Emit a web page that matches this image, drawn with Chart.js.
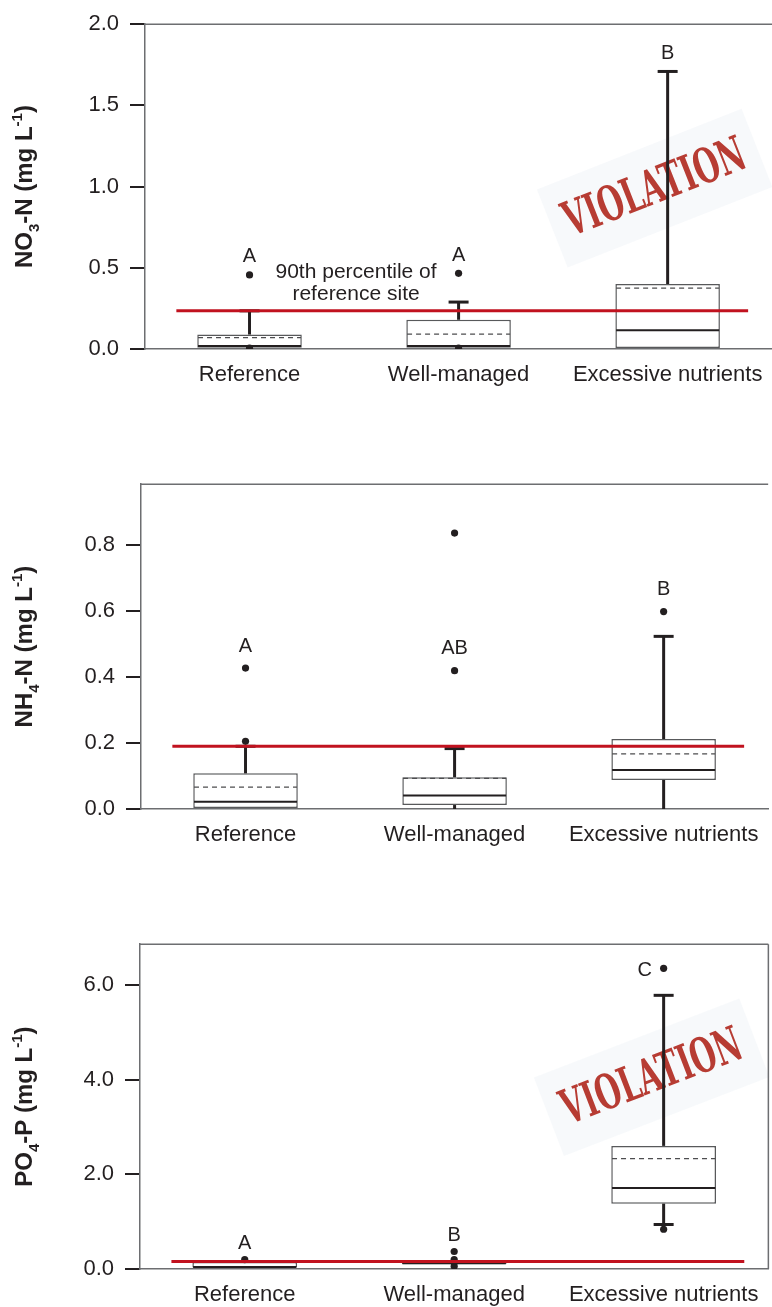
<!DOCTYPE html>
<html><head><meta charset="utf-8">
<script src="https://cdn.jsdelivr.net/npm/chart.js@4.4.0/dist/chart.umd.min.js"></script>
<style>
html,body{margin:0;padding:0;background:#fff;}
body{position:relative;width:772px;height:1307px;overflow:hidden;}
canvas{position:absolute;left:0;}
</style></head><body>
<canvas id="c1" width="776" height="440" style="top:0px"></canvas>
<canvas id="c2" width="772" height="440" style="top:460px"></canvas>
<canvas id="c3" width="772" height="387" style="top:920px"></canvas>
<script>
// ---------- DATA ----------
const categories = ['Reference', 'Well-managed', 'Excessive nutrients'];

// Panel 1: NO3-N
const no3Q1 = [0.008, 0.008, 0.0];
const no3Q3 = [0.089, 0.18, 0.40];
const no3Median = [0.018, 0.018, 0.115];
const no3Mean = [0.07, 0.092, 0.375];
const no3WhiskerLow = [null, null, null];
const no3WhiskerHigh = [0.235, 0.289, 1.709];
const no3Outliers = [[0.456, 0.005], [0.466, 0.005], []];
const no3Letters = ['A', 'A', 'B'];
const no3LetterAt = [0.456, 0.466, 1.709];
const no3Threshold = 0.235;
const no3Ticks = [0.0, 0.5, 1.0, 1.5, 2.0];
const no3Range = [0, 2.0];

// Panel 2: NH4-N
const nh4Q1 = [0.003, 0.012, 0.088];
const nh4Q3 = [0.108, 0.096, 0.212];
const nh4Median = [0.022, 0.041, 0.118];
const nh4Mean = [0.066, 0.093, 0.167];
const nh4WhiskerLow = [null, 0.0, 0.0];
const nh4WhiskerHigh = [0.19, 0.183, 0.523];
const nh4Outliers = [[0.427, 0.205], [0.419, 0.836], [0.598]];
const nh4Letters = ['A', 'AB', 'B'];
const nh4LetterAt = [0.427, 0.419, 0.598];
const nh4Threshold = 0.19;
const nh4Ticks = [0.0, 0.2, 0.4, 0.6, 0.8];
const nh4Range = [0, 0.984];

// Panel 3: PO4-P
const po4Q1 = [0.03, 0.10, 1.38];
const po4Q3 = [0.15, 0.15, 2.60];
const po4Median = [0.04, 0.12, 1.71];
const po4Mean = [0.14, 0.14, 2.33];
const po4WhiskerLow = [null, null, 0.94];
const po4WhiskerHigh = [null, null, 5.78];
const po4Outliers = [[0.2], [0.37, 0.2, 0.06], [6.35, 0.84]];
const po4Letters = ['A', 'B', 'C'];
const po4LetterAt = [0.2, 0.37, 6.35];
const po4Threshold = 0.16;
const po4Ticks = [0.0, 2.0, 4.0, 6.0];
const po4Range = [0, 6.86];

// ---------- STYLE ----------
const FONT = '"Liberation Sans", Arial, sans-serif';
const DARK = '#231f20';
const AXIS = '#6d6e71';
const RED = '#c1121f';

function drawYTitle(ctx, parts, cx, cy, size) {
  ctx.save();
  ctx.translate(cx, cy);
  ctx.rotate(-Math.PI / 2);
  const main = 'bold ' + size + 'px ' + FONT;
  const small = 'bold ' + Math.round(size * 0.62) + 'px ' + FONT;
  let total = 0;
  const ws = parts.map(p => { ctx.font = p[1] === 'n' ? main : small; const w = ctx.measureText(p[0]).width; total += w; return w; });
  let x = -total / 2;
  ctx.fillStyle = DARK;
  ctx.textAlign = 'left';
  ctx.textBaseline = 'alphabetic';
  const base = size * 0.36;
  parts.forEach((p, i) => {
    ctx.font = p[1] === 'n' ? main : small;
    const dy = p[1] === 'sub' ? size * 0.28 : (p[1] === 'sup' ? -size * 0.42 : 0);
    ctx.fillText(p[0], x, base + dy);
    x += ws[i];
  });
  ctx.restore();
}

function drawStamp(chart, s) {
  const ctx = chart.ctx, xs = chart.scales.x, ys = chart.scales.y;
  const cx = xs.getPixelForValue(2) + s.dx;
  const cy = ys.getPixelForValue(s.y);
  ctx.save();
  ctx.translate(cx, cy);
  ctx.rotate(s.angle * Math.PI / 180);
  ctx.fillStyle = 'rgba(232,238,243,0.35)';
  ctx.fillRect(-110, -42, 220, 84);
  ctx.font = 'bold 46px "DejaVu Serif Condensed", "DejaVu Serif", serif';
  ctx.textAlign = 'center';
  ctx.textBaseline = 'middle';
  const w = ctx.measureText('VIOLATION').width;
  ctx.scale(s.width / w, 1.05);
  ctx.fillStyle = 'rgba(176,40,30,0.9)';
  ctx.fillText('VIOLATION', 0, 2);
  ctx.restore();
}

function makePanel(id, p) {
  const el = document.getElementById(id);
  const H = el.height;
  const extras = {
    id: 'extras',
    beforeDatasetsDraw(chart) {
      if (p.stamp) drawStamp(chart, p.stamp);
    },
    afterDatasetsDraw(chart) {
      const ctx = chart.ctx, ys = chart.scales.y;
      const meta = chart.getDatasetMeta(0);
      ctx.save();
      meta.data.forEach((bar, i) => {
        const cx = bar.x;
        const half = bar.width / 2 - 0.75;
        // mean (dashed)
        ctx.strokeStyle = '#4d4d4f'; ctx.lineWidth = 1.3; ctx.setLineDash([5, 4]);
        let y = ys.getPixelForValue(p.mean[i]);
        ctx.beginPath(); ctx.moveTo(cx - half, y); ctx.lineTo(cx + half, y); ctx.stroke();
        ctx.setLineDash([]);
        // median
        ctx.strokeStyle = DARK; ctx.lineWidth = 2;
        y = ys.getPixelForValue(p.median[i]);
        ctx.beginPath(); ctx.moveTo(cx - half, y); ctx.lineTo(cx + half, y); ctx.stroke();
        // whiskers
        ctx.lineWidth = 3;
        if (p.wHigh[i] != null) {
          const y0 = ys.getPixelForValue(p.q3[i]), y1 = ys.getPixelForValue(p.wHigh[i]);
          ctx.beginPath(); ctx.moveTo(cx, y0); ctx.lineTo(cx, y1); ctx.stroke();
          ctx.beginPath(); ctx.moveTo(cx - 10, y1); ctx.lineTo(cx + 10, y1); ctx.stroke();
        }
        if (p.wLow[i] != null) {
          const y0 = ys.getPixelForValue(p.q1[i]), y1 = ys.getPixelForValue(p.wLow[i]);
          ctx.beginPath(); ctx.moveTo(cx, y0); ctx.lineTo(cx, y1); ctx.stroke();
          if (p.wLow[i] > ys.min) { ctx.beginPath(); ctx.moveTo(cx - 10, y1); ctx.lineTo(cx + 10, y1); ctx.stroke(); }
        }
      });
      ctx.restore();
    },
    afterDraw(chart) {
      const ctx = chart.ctx, xs = chart.scales.x, ys = chart.scales.y, ca = chart.chartArea;
      ctx.save();
      // frame: top (and right)
      ctx.strokeStyle = AXIS; ctx.lineWidth = 1.5;
      ctx.beginPath(); ctx.moveTo(ca.left, ca.top); ctx.lineTo(ca.right, ca.top); ctx.stroke();
      if (p.rightBorder) { ctx.beginPath(); ctx.moveTo(ca.right, ca.top); ctx.lineTo(ca.right, ca.bottom); ctx.stroke(); }
      // letters
      ctx.fillStyle = DARK; ctx.font = '20px ' + FONT; ctx.textBaseline = 'middle'; ctx.textAlign = 'center';
      p.letters.forEach((t, i) => {
        const x = xs.getPixelForValue(i), y = ys.getPixelForValue(p.letterAt[i]);
        if (p.letterLeft && p.letterLeft[i]) ctx.fillText(t, x - 19, y + 2);
        else ctx.fillText(t, x, y - p.letterGap);
      });
      // threshold line (90th percentile of reference site)
      const step = xs.getPixelForValue(1) - xs.getPixelForValue(0);
      const ty = ys.getPixelForValue(p.threshold);
      ctx.strokeStyle = RED; ctx.lineWidth = 3;
      ctx.beginPath();
      ctx.moveTo(xs.getPixelForValue(0) - 0.35 * step, ty);
      ctx.lineTo(xs.getPixelForValue(2) + 0.385 * step, ty);
      ctx.stroke();
      if (p.note) {
        ctx.fillStyle = DARK; ctx.font = '21px ' + FONT; ctx.textAlign = 'center'; ctx.textBaseline = 'alphabetic';
        const nx = (xs.getPixelForValue(0) + xs.getPixelForValue(1)) / 2 + 2;
        ctx.fillText(p.note[0], nx, ty - 33);
        ctx.fillText(p.note[1], nx, ty - 11);
      }
      ctx.restore();
      drawYTitle(ctx, p.title, 23.5, (ca.top + ca.bottom) / 2, 24);
    }
  };
  const outlierPts = [];
  p.outliers.forEach((arr, i) => arr.forEach(v => outlierPts.push({ x: categories[i], y: v })));
  return new Chart(el, {
    type: 'bar',
    data: {
      labels: categories,
      datasets: [
        {
          type: 'bar', order: 1,
          data: p.q1.map((v, i) => [v, p.q3[i]]),
          backgroundColor: '#ffffff', borderColor: '#58595b', borderWidth: 1.5,
          borderSkipped: false, barPercentage: 0.5, categoryPercentage: 1.0
        },
        {
          type: 'scatter', order: 0, data: outlierPts, showLine: false,
          pointRadius: 3.6, pointHoverRadius: 3.6, pointBackgroundColor: DARK, pointBorderWidth: 0
        }
      ]
    },
    options: {
      responsive: false, animation: false, devicePixelRatio: 1,
      layout: { padding: { top: 17, right: p.padRight, bottom: 0, left: 0 } },
      plugins: { legend: { display: false }, tooltip: { enabled: false } },
      scales: {
        x: {
          type: 'category', offset: true,
          grid: { display: false, drawTicks: false },
          border: { display: true, color: AXIS, width: 1.5 },
          ticks: { color: DARK, font: { family: FONT, size: 22 }, padding: 13, maxRotation: 0, autoSkip: false },
          afterFit: s => { s.height = H - 349; }
        },
        y: {
          type: 'linear', min: p.range[0], max: p.range[1],
          afterBuildTicks: s => { s.ticks = p.ticks.map(v => ({ value: v })); },
          grid: { drawOnChartArea: false, drawTicks: true, tickLength: 15, color: DARK, lineWidth: 2 },
          border: { display: true, color: AXIS, width: 1.5 },
          ticks: { color: DARK, font: { family: FONT, size: 22 }, padding: 11, callback: v => Number(v).toFixed(1) },
          afterFit: s => { s.width = p.yWidth; }
        }
      }
    },
    plugins: [extras]
  });
}

makePanel('c1', {
  q1: no3Q1, q3: no3Q3, median: no3Median, mean: no3Mean, wLow: no3WhiskerLow, wHigh: no3WhiskerHigh,
  outliers: no3Outliers, letters: no3Letters, letterAt: no3LetterAt, letterGap: 18,
  threshold: no3Threshold, ticks: no3Ticks, range: no3Range, yWidth: 145, padRight: 0,
  title: [['NO', 'n'], ['3', 'sub'], ['-N (mg L', 'n'], ['-1', 'sup'], [')', 'n']],
  note: ['90th percentile of', 'reference site'],
  stamp: { dx: -13, y: 0.99, angle: -21.5, width: 192 }
});
makePanel('c2', {
  q1: nh4Q1, q3: nh4Q3, median: nh4Median, mean: nh4Mean, wLow: nh4WhiskerLow, wHigh: nh4WhiskerHigh,
  outliers: nh4Outliers, letters: nh4Letters, letterAt: nh4LetterAt, letterGap: 22,
  threshold: nh4Threshold, ticks: nh4Ticks, range: nh4Range, yWidth: 141, padRight: 0,
  title: [['NH', 'n'], ['4', 'sub'], ['-N (mg L', 'n'], ['-1', 'sup'], [')', 'n']]
});
makePanel('c3', {
  q1: po4Q1, q3: po4Q3, median: po4Median, mean: po4Mean, wLow: po4WhiskerLow, wHigh: po4WhiskerHigh,
  outliers: po4Outliers, letters: po4Letters, letterAt: po4LetterAt, letterGap: 16, letterLeft: [false, false, true],
  threshold: po4Threshold, ticks: po4Ticks, range: po4Range, yWidth: 140, padRight: 2, rightBorder: true,
  title: [['PO', 'n'], ['4', 'sub'], ['-P (mg L', 'n'], ['-1', 'sup'], [')', 'n']],
  stamp: { dx: -12, y: 4.05, angle: -21, width: 190 }
});
</script>
</body></html>
